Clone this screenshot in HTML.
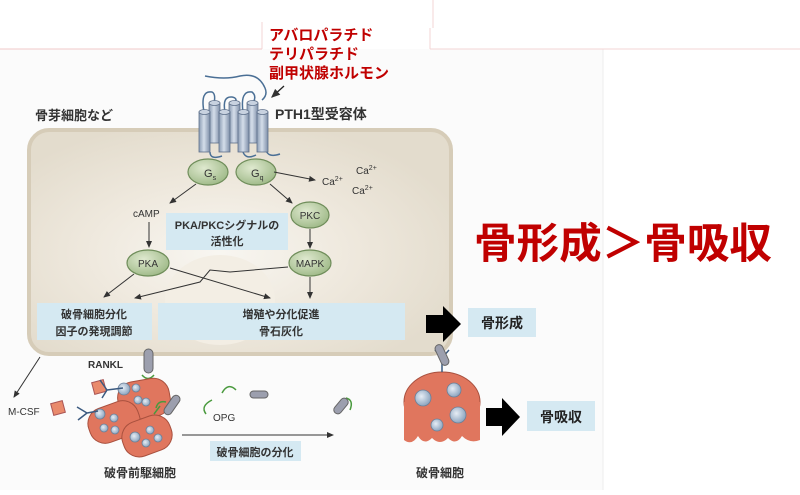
<!DOCTYPE html>
<html><head><meta charset="utf-8">
<style>
html,body{margin:0;padding:0;background:#fff;}
svg text{font-family:"Liberation Sans","Noto Sans CJK JP",sans-serif;}
</style></head>
<body>
<svg width="800" height="490" viewBox="0 0 800 490" xmlns="http://www.w3.org/2000/svg">
<defs>
<radialGradient id="cg" cx="0.45" cy="0.55" r="0.6">
<stop offset="0" stop-color="#f8f6f1"/><stop offset="0.5" stop-color="#efe9de"/><stop offset="1" stop-color="#e3dccd"/>
</radialGradient>
<radialGradient id="gr" cx="0.4" cy="0.35" r="0.7">
<stop offset="0" stop-color="#dfe9cf"/><stop offset="1" stop-color="#9db886"/>
</radialGradient>
<linearGradient id="cyl" x1="0" x2="1">
<stop offset="0" stop-color="#8b9cb4"/><stop offset="0.45" stop-color="#d5deea"/><stop offset="1" stop-color="#7d8ea8"/>
</linearGradient>
<radialGradient id="nuc" cx="0.4" cy="0.4" r="0.6">
<stop offset="0" stop-color="#e6edf5"/><stop offset="1" stop-color="#8ea6c0"/>
</radialGradient>
<marker id="ah" markerWidth="7" markerHeight="7" refX="6" refY="3.5" orient="auto"><path d="M0,0.5 L7,3.5 L0,6.5z" fill="#333"/></marker>
</defs>
<rect x="0" y="49" width="603" height="441" fill="#fbfbfb"/>
<line x1="603" y1="49" x2="603" y2="490" stroke="#eee"/>
<line x1="0" y1="49" x2="262" y2="49" stroke="#f0c8c8"/>
<line x1="430" y1="49" x2="800" y2="49" stroke="#f3d4d4"/>
<line x1="433" y1="0" x2="433" y2="28" stroke="#f3d4d4"/>
<line x1="262" y1="22" x2="262" y2="49" stroke="#f3d4d4"/>
<line x1="430" y1="28" x2="430" y2="49" stroke="#f3d4d4"/>
<text x="269" y="40" font-size="15" font-weight="bold" fill="#c00000">アバロパラチド</text>
<text x="269" y="59" font-size="15" font-weight="bold" fill="#c00000">テリパラチド</text>
<text x="269" y="78" font-size="15" font-weight="bold" fill="#c00000">副甲状腺ホルモン</text>
<text x="35" y="120" font-size="13" font-weight="bold" fill="#333">骨芽細胞など</text>
<text x="275" y="119" font-size="14" font-weight="bold" fill="#333">PTH1型受容体</text>
<!-- cell -->
<rect x="29" y="130" width="422" height="224" rx="20" fill="url(#cg)" stroke="#d6ccb8" stroke-width="4"/>
<ellipse cx="220" cy="300" rx="55" ry="45" fill="#f3eee4"/>
<!-- receptor -->
<path d="M205,76 Q225,80 240,76 Q258,72 265,88 Q268,95 262,100" fill="none" stroke="#4a6f95" stroke-width="1.5"/>
<path d="M284,86 L272,97" stroke="#222" stroke-width="1.3" marker-end="url(#ah)"/>
<g fill="none" stroke="#4a6f95" stroke-width="1.5">
<path d="M204,112 Q200,90 212,92 Q216,94 214,103"/>
<path d="M225,112 Q222,96 232,97 Q238,98 235,103"/>
<path d="M243,112 Q240,90 252,92 Q257,96 253,103"/>
<path d="M210,152 Q210,160 222,156"/><path d="M243,152 Q246,160 256,155"/>
<path d="M266,150 Q268,158 280,154"/>
</g>
<g stroke="#5e708a" stroke-width="0.8">
<rect x="209" y="103" width="11" height="40" fill="url(#cyl)"/><ellipse cx="214.5" cy="103" rx="5.5" ry="2.5" fill="#c8d2e0"/>
<rect x="229" y="103" width="11" height="40" fill="url(#cyl)"/><ellipse cx="234.5" cy="103" rx="5.5" ry="2.5" fill="#c8d2e0"/>
<rect x="247" y="103" width="11" height="40" fill="url(#cyl)"/><ellipse cx="252.5" cy="103" rx="5.5" ry="2.5" fill="#c8d2e0"/>
<rect x="199" y="112" width="11" height="40" fill="url(#cyl)"/><ellipse cx="204.5" cy="112" rx="5.5" ry="2.5" fill="#c8d2e0"/>
<rect x="219" y="112" width="11" height="40" fill="url(#cyl)"/><ellipse cx="224.5" cy="112" rx="5.5" ry="2.5" fill="#c8d2e0"/>
<rect x="238" y="112" width="11" height="40" fill="url(#cyl)"/><ellipse cx="243.5" cy="112" rx="5.5" ry="2.5" fill="#c8d2e0"/>
<rect x="257" y="112" width="11" height="40" fill="url(#cyl)"/><ellipse cx="262.5" cy="112" rx="5.5" ry="2.5" fill="#c8d2e0"/>
</g>
<!-- G proteins -->
<g stroke="#6f8d5a" stroke-width="1.2" fill="url(#gr)">
<ellipse cx="208" cy="172" rx="20" ry="13"/><ellipse cx="256" cy="172" rx="20" ry="13"/>
<ellipse cx="310" cy="215" rx="19" ry="13"/><ellipse cx="148" cy="263" rx="21" ry="13"/><ellipse cx="310" cy="263" rx="21" ry="13"/>
</g>
<text x="204" y="177" font-size="11" fill="#333">G<tspan font-size="7" dy="3">s</tspan></text>
<text x="251" y="177" font-size="11" fill="#333">G<tspan font-size="7" dy="3">q</tspan></text>
<text x="310" y="219" font-size="10" fill="#333" text-anchor="middle">PKC</text>
<text x="148" y="267" font-size="10" fill="#333" text-anchor="middle">PKA</text>
<text x="310" y="267" font-size="10" fill="#333" text-anchor="middle">MAPK</text>
<g stroke="#333" stroke-width="1" fill="none" marker-end="url(#ah)">
<path d="M274,172 L315,180"/><path d="M196,184 L170,203"/><path d="M270,184 L292,203"/>
<path d="M149,222 L149,247"/><path d="M310,229 L310,248"/>
<path d="M134,274 L104,297"/><path d="M288,267 L230,272 L210,270 L200,282 L135,298"/>
<path d="M170,268 L270,298"/><path d="M310,277 L310,298"/>
<path d="M40,357 L14,397"/><path d="M182,435 L333,435"/>
</g>
<text x="322" y="185" font-size="10" fill="#333">Ca<tspan font-size="7" dy="-4">2+</tspan></text>
<text x="356" y="174" font-size="10" fill="#333">Ca<tspan font-size="7" dy="-4">2+</tspan></text>
<text x="352" y="194" font-size="10" fill="#333">Ca<tspan font-size="7" dy="-4">2+</tspan></text>
<text x="133" y="217" font-size="10" fill="#333">cAMP</text>
<rect x="166" y="213" width="122" height="37" fill="#d5e9f2"/>
<text x="227" y="229" font-size="11" font-weight="bold" fill="#333" text-anchor="middle">PKA/PKCシグナルの</text>
<text x="227" y="245" font-size="11" font-weight="bold" fill="#333" text-anchor="middle">活性化</text>
<rect x="37" y="303" width="115" height="37" fill="#d5e9f2"/>
<rect x="158" y="303" width="247" height="37" fill="#d5e9f2"/>
<text x="94" y="318" font-size="11" font-weight="bold" fill="#333" text-anchor="middle">破骨細胞分化</text>
<text x="94" y="335" font-size="11" font-weight="bold" fill="#333" text-anchor="middle">因子の発現調節</text>
<text x="281" y="318" font-size="11" font-weight="bold" fill="#333" text-anchor="middle">増殖や分化促進</text>
<text x="281" y="335" font-size="11" font-weight="bold" fill="#333" text-anchor="middle">骨石灰化</text>
<path d="M426,315 L443,315 L443,306 L461,324 L443,342 L443,333 L426,333z" fill="#000"/>
<rect x="468" y="308" width="68" height="29" fill="#d5e9f2"/>
<text x="502" y="328" font-size="14" font-weight="bold" fill="#222" text-anchor="middle">骨形成</text>
<text x="474" y="258" font-size="42" font-weight="bold" fill="#c00000" textLength="298" lengthAdjust="spacingAndGlyphs">骨形成＞骨吸収</text>
<!-- bottom -->
<text x="88" y="368" font-size="10" font-weight="bold" fill="#333">RANKL</text>
<rect x="144" y="349" width="9" height="24" rx="4.5" fill="#9c9fae" stroke="#666"/>
<path d="M142,375 Q148,382 154,375 M148,380 L148,385" fill="none" stroke="#4a9a3e" stroke-width="1.5"/>
<text x="8" y="415" font-size="10" fill="#333">M-CSF</text>
<rect x="52" y="402" width="12" height="12" fill="#e98a6c" stroke="#a55" transform="rotate(-15 58 408)"/>
<rect x="93" y="381" width="12" height="12" fill="#e98a6c" stroke="#a55" transform="rotate(-15 99 387)"/>
<g fill="#e0765e" stroke="#a8503e" stroke-width="1">
<rect x="118" y="380" width="52" height="38" rx="16" transform="rotate(-10 144 399)"/>
<rect x="88" y="404" width="52" height="36" rx="16" transform="rotate(-20 114 422)"/>
<rect x="122" y="418" width="50" height="36" rx="16" transform="rotate(-20 147 436)"/>
<ellipse cx="442" cy="402" rx="38" ry="30"/>
<path d="M404,402 L404,440 Q412,446 418,436 Q424,446 432,438 Q440,446 448,438 Q456,446 462,436 Q470,444 480,440 L480,402z" stroke="none"/>
</g>
<g fill="url(#nuc)" stroke="#6a7f98" stroke-width="0.8">
<circle cx="124" cy="389" r="6"/><circle cx="138" cy="400" r="4"/><circle cx="146" cy="402" r="4"/><circle cx="136" cy="388" r="4"/>
<circle cx="100" cy="414" r="5"/><circle cx="114" cy="418" r="4"/><circle cx="104" cy="428" r="4"/><circle cx="115" cy="430" r="4"/>
<circle cx="135" cy="437" r="5"/><circle cx="150" cy="430" r="4"/><circle cx="146" cy="443" r="4"/><circle cx="158" cy="438" r="4"/>
<circle cx="423" cy="398" r="8"/><circle cx="454" cy="390" r="7"/><circle cx="458" cy="415" r="8"/><circle cx="437" cy="425" r="6"/>
</g>
<g fill="none" stroke="#3b5a80" stroke-width="1.5">
<path d="M123,388 L107,390 M107,390 L100,380 M107,390 L102,398"/>
<path d="M87,413 L77,407 M87,413 L78,420 M87,413 L98,411"/>
<path d="M442,372 L442,358 M442,358 L435,350 M442,358 L449,350"/>
</g>
<rect x="438" y="344" width="8" height="22" rx="4" fill="#9c9fae" stroke="#666" transform="rotate(-25 442 355)"/>
<rect x="168" y="394" width="8" height="22" rx="4" fill="#9c9fae" stroke="#666" transform="rotate(35 172 405)"/>
<path d="M156,408 Q158,400 166,402 M160,406 L154,414" fill="none" stroke="#4a9a3e" stroke-width="1.5"/>
<g fill="none" stroke="#4a9a3e" stroke-width="1.5">
<path d="M212,400 Q200,406 206,414"/><path d="M222,393 Q228,382 236,390"/><path d="M346,398 Q354,400 350,410"/>
</g>
<rect x="250" y="391" width="18" height="7" rx="3.5" fill="#9c9fae" stroke="#666"/>
<rect x="337" y="397" width="8" height="18" rx="4" fill="#9c9fae" stroke="#666" transform="rotate(40 341 406)"/>
<text x="213" y="421" font-size="10" fill="#333">OPG</text>
<rect x="210" y="441" width="91" height="20" fill="#d5e9f2"/>
<text x="255" y="456" font-size="11" font-weight="bold" fill="#333" text-anchor="middle">破骨細胞の分化</text>
<text x="140" y="477" font-size="12" font-weight="bold" fill="#333" text-anchor="middle">破骨前駆細胞</text>
<text x="440" y="477" font-size="12" font-weight="bold" fill="#333" text-anchor="middle">破骨細胞</text>
<path d="M486,408 L502,408 L502,398 L520,417 L502,436 L502,426 L486,426z" fill="#000"/>
<rect x="527" y="401" width="68" height="30" fill="#d5e9f2"/>
<text x="561" y="422" font-size="14" font-weight="bold" fill="#222" text-anchor="middle">骨吸収</text>
</svg>
</body></html>
